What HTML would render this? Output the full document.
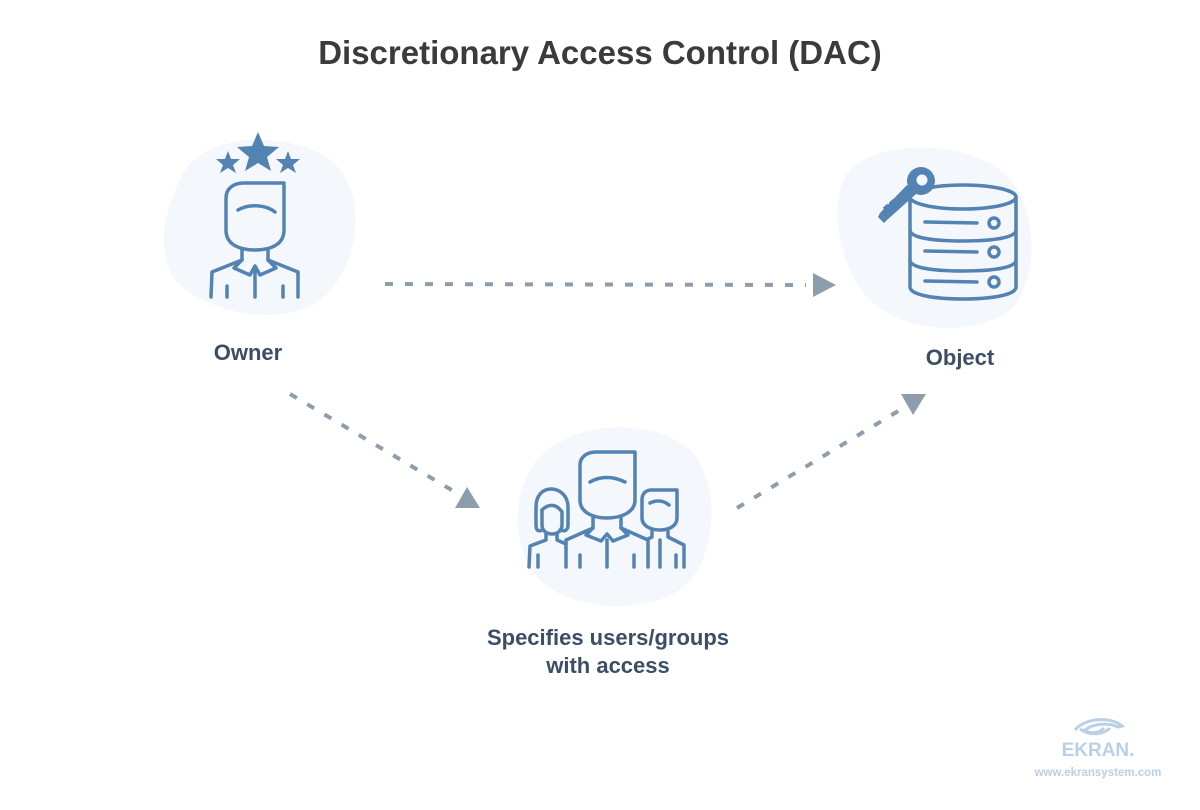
<!DOCTYPE html>
<html><head><meta charset="utf-8"><style>
html,body{margin:0;padding:0;background:#fff;}
body{width:1200px;height:810px;position:relative;overflow:hidden;font-family:"Liberation Sans",sans-serif;}
svg{position:absolute;left:0;top:0;}
</style></head><body>
<svg width="1200" height="810" viewBox="0 0 1200 810">
<path d="M180 180 C200 130 290 130 330 160 C370 190 360 270 320 300 C280 330 200 310 175 280 C155 250 165 210 180 180Z" fill="#f4f7fc"/>
<path d="M850 170 C880 140 960 140 1000 170 C1040 200 1040 280 1010 310 C970 340 900 330 870 300 C840 270 825 200 850 170Z" fill="#f4f7fc"/>
<path d="M530 470 C560 420 650 415 690 450 C720 480 720 560 680 590 C640 615 570 610 540 580 C515 555 510 505 530 470Z" fill="#f4f7fc"/>

<g stroke="#8e9dab" stroke-width="4" stroke-dasharray="8 12" fill="none">
<line x1="385" y1="284" x2="806" y2="285"/>
<line x1="290" y1="394" x2="455" y2="492"/>
<line x1="737" y1="508" x2="900" y2="410"/>
</g>
<g fill="#8e9dab">
<polygon points="813,273 836,285 813,297"/>
<polygon points="455,508 480,508 467,487"/>
<polygon points="901,394 926,394 913,415"/>
</g>

<g stroke="#5383b2" stroke-width="3.5" fill="none" stroke-linecap="round" stroke-linejoin="round">
<path d="M226 230 L226 198 C226 188 234 183 244 183 L284 183 L284 230 C284 245 270 250 255 250 C240 250 226 245 226 230Z"/>
<path d="M238 210 C248 204 265 204 275 212"/>
<path d="M242 250 L242 260 L212 272 L211 297 M268 250 L268 260 L298 272 L298 297"/>
<path d="M242 260 L234 268 L250 275 L255 266 L260 275 L276 268 L268 260"/>
<path d="M255 270 L255 297 M227 286 L227 297 M283 286 L283 297"/>
</g>
<g fill="#5383b2">
<polygon points="258,132 264,146 279,147 267,157 271,171 258,163 245,171 249,157 237,147 252,146"/>
<polygon points="228,151 231,159 240,159 233,165 236,173 228,168 220,173 223,165 216,159 225,159"/>
<polygon points="288,151 291,159 300,159 293,165 296,173 288,168 280,173 283,165 276,159 285,159"/>
</g>

<g stroke="#5383b2" stroke-width="3.5" fill="none" stroke-linecap="round">
<ellipse cx="963" cy="197" rx="53" ry="12"/>
<path d="M910 197 L910 287 C910 295 935 299 963 299 C991 299 1016 295 1016 287 L1016 197"/>
<path d="M910 230 C910 238 935 241 963 241 C991 241 1016 238 1016 230"/>
<path d="M910 260 C910 268 935 271 963 271 C991 271 1016 268 1016 260"/>
<line x1="925" y1="222" x2="977" y2="223"/>
<line x1="925" y1="251" x2="977" y2="252"/>
<line x1="925" y1="281" x2="977" y2="282"/>
<circle cx="994" cy="223" r="5"/>
<circle cx="994" cy="252" r="5"/>
<circle cx="994" cy="282" r="5"/>
</g>
<g fill="#5383b2">
<circle cx="921" cy="181" r="14"/>
<polygon points="907,185 916,194 887,220 880,213"/>
<polygon points="880,213 887,220 884,223 878,217"/>
<rect x="884" y="205" width="6" height="6" transform="rotate(-42 887 208)"/>
<rect x="890" y="200" width="6" height="6" transform="rotate(-42 893 203)"/>
</g>
<circle cx="922" cy="180" r="5.5" fill="#f4f7fc"/>

<g stroke="#5383b2" stroke-width="3.5" fill="none" stroke-linecap="round" stroke-linejoin="round">
<path d="M580 500 L580 465 C580 457 587 452 596 452 L635 452 L635 500 C635 513 620 518 607 518 C594 518 580 513 580 500Z"/>
<path d="M590 482 C600 476 613 476 625 482"/>
<path d="M593 518 L593 528 L566 540 L566 567 M621 518 L621 528 L648 540 L648 567"/>
<path d="M593 528 L586 535 L601 541 L607 534 L613 541 L628 535 L621 528"/>
<path d="M607 540 L607 567 M580 555 L580 567 M634 555 L634 567"/>
<path d="M536 525 L536 507 C536 495 543 489 551 489 C559 489 568 495 568 507 L568 525 C568 530 565 532 560 530 M542 530 C538 532 536 530 536 525"/>
<path d="M542 510 C548 504 556 503 562 512 M542 510 L542 525 C542 531 547 534 552 534 C557 534 562 531 562 525 L562 512"/>
<path d="M546 534 L546 540 L530 546 L529 567 M557 534 L557 540 L566 544"/>
<line x1="538" y1="555" x2="538" y2="567"/>
<path d="M642 518 L642 500 C642 493 646 490 652 490 L677 490 L677 518 C677 526 669 530 660 530 C651 530 642 526 642 518Z"/>
<path d="M650 503 C656 500 663 500 669 505"/>
<path d="M652 530 L652 537 L648 539 M668 530 L668 537 L684 545 L684 567"/>
<path d="M660 540 L660 567 M676 555 L676 567"/>
</g>

<text x="600" y="64" text-anchor="middle" font-family="Liberation Sans, sans-serif" font-weight="bold" font-size="33" fill="#3b3b3b">Discretionary Access Control (DAC)</text>
<g font-family="Liberation Sans, sans-serif" font-weight="bold" font-size="22" fill="#3c4d66" text-anchor="middle">
<text x="248" y="360">Owner</text>
<text x="960" y="365">Object</text>
<text x="608" y="645">Specifies users/groups</text>
<text x="608" y="673">with access</text>
</g>

<path d="M1075 730 C1085 718 1110 716 1122 726 L1118 727 C1108 722 1092 724 1085 730 C1090 734 1098 734 1104 728 M1080 729 C1090 736 1103 735 1110 728" stroke="#b9d0e6" stroke-width="3" fill="none"/>
<text x="1098" y="756" text-anchor="middle" font-family="Liberation Sans, sans-serif" font-weight="bold" font-size="19" fill="#b9d0e6">EKRAN.</text>
<text x="1098" y="776" text-anchor="middle" font-family="Liberation Sans, sans-serif" font-weight="bold" font-size="11.5" fill="#b9d0e6">www.ekransystem.com</text>
</svg>
</body></html>
